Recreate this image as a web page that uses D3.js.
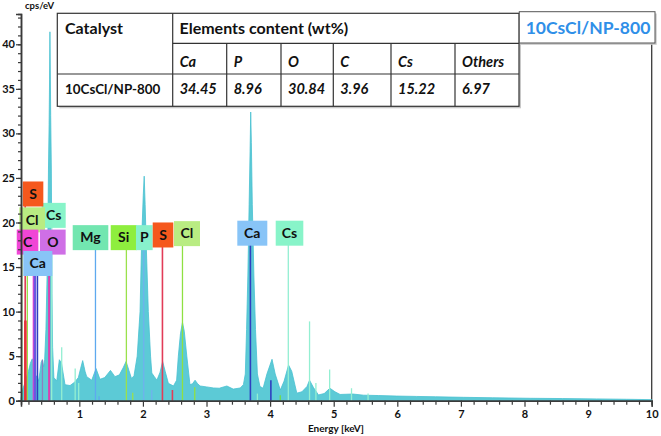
<!DOCTYPE html>
<html><head><meta charset="utf-8">
<script src="https://cdn.jsdelivr.net/npm/d3@7"></script>
<style>
html,body{margin:0;padding:0;background:#fff;}
svg{display:block;font-family:Lato,"Open Sans",sans-serif;}
</style></head>
<body><svg id="c" width="661" height="436"></svg>
<script>
// ---- spectrum (energy keV, counts cps/eV) ----
const energy = [0.083,0.09,0.11,0.14,0.17,0.2,0.23,0.26,0.28,0.3,0.33,0.36,0.38,0.4,0.42,0.44,0.455,0.475,0.49,0.505,0.515,0.525,0.532,0.538,0.545,0.55,0.56,0.57,0.58,0.6,0.645,0.686,0.72,0.775,0.854,0.93,0.985,1.02,1.053,1.09,1.116,1.195,1.263,1.325,1.40,1.49,1.56,1.63,1.69,1.735,1.78,1.82,1.86,1.91,1.955,1.98,2.005,2.02,2.035,2.05,2.085,2.12,2.14,2.18,2.22,2.27,2.31,2.35,2.40,2.48,2.53,2.557,2.59,2.622,2.65,2.69,2.74,2.78,2.82,2.86,2.90,3.0,3.11,3.2,3.32,3.42,3.53,3.58,3.61,3.63,3.65,3.67,3.685,3.695,3.705,3.72,3.745,3.77,3.8,3.84,3.89,3.95,4.03,4.08,4.16,4.22,4.29,4.34,4.42,4.50,4.58,4.62,4.68,4.76,4.85,4.94,5.02,5.1,5.3,5.47,5.7,5.99,6.3,6.6,7.04,7.5,8.09,8.6,9.13,9.6,10];
const counts = [0.3,0.5,1.3,1.9,2.7,3.3,4.2,4.7,3.6,2.5,2.8,2.2,3.2,4.3,4.6,3.8,4.6,8,13,18,26,31,36,41.4,36,32,26,12,6,2.6,2.2,4.6,4.2,1.8,1.7,2.1,2.6,3.6,4.5,3.3,2.7,2.3,3.6,2.4,2.6,3.4,2.7,2.9,3.7,4.4,3.4,2.5,2.8,5,10,18,23,25.2,22,18,10,5,3.1,2.7,2.3,3.2,4.4,3.3,1.95,1.65,2.3,5,7.5,8.8,7.8,5,1.8,1.9,2.3,1.9,1.65,1.55,1.43,1.4,1.65,1.3,1.43,1.8,3,8,14,22,28,32.4,29,22,14,8,3,1.6,1.4,3,4.65,3,1.2,2.2,4.0,3.3,0.85,1.0,1.6,2.3,1.5,0.65,0.8,1.4,1.0,0.7,0.75,0.62,0.58,0.52,0.48,0.44,0.38,0.33,0.27,0.24,0.2,0.16,0.12];

// ---- element marker lines ----
const markerEnergy = [0.094,0.149,0.182,0.277,0.30,0.341,0.42,0.525,0.565,0.723,0.935,0.99,1.254,1.31,1.74,1.84,2.013,2.139,2.307,2.464,2.622,2.815,3.69,3.80,4.012,4.16,4.286,4.62,4.72,4.936,5.28,5.54];
const markerTop    = [17.8,23,20.3,17.8,15.4,15.4,4.6,17.8,20.8,6,3.6,2.0,18.3,0.5,18.3,0.9,18.3,1.2,18.6,1.2,18.7,1.5,18.8,0.8,2.3,0.6,18.8,8.9,2.0,3.5,1.4,0.8];
const markerKind   = ["g","S","Cl","C","CaL2","Ca","N","O","Cs","Cs","Cs","Cs","Mg","Mg","Si","Si","P","P","S","S","Cl","Cl","Ca","Cs","Ca","g","Cs","Cs","Cs","Cs","Cs","Cs"];

// ---- element label boxes ----
const boxLabel  = ["Cs","Cl","S","O","C","Ca","Mg","Si","P","S","Cl","Ca","Cs"];
const boxEnergy = [0.597,0.259,0.272,0.583,0.186,0.347,1.176,1.698,2.022,2.316,2.693,3.72,4.305];
const boxValue  = [20.8,20.3,23.2,17.8,17.8,15.4,18.3,18.3,18.3,18.6,18.75,18.8,18.8];

// ---- axes ----
const xMajor = [1,2,3,4,5,6,7,8,9,10];
const yMajor = [0,5,10,15,20,25,30,35,40];

// ---- composition table ----
const tableCatalyst = "10CsCl/NP-800";
const tableElements = ["Ca","P","O","C","Cs","Others"];
const tableValues   = ["34.45","8.96","30.84","3.96","15.22","6.97"];
const legendLabel = "10CsCl/NP-800";

// ---------- styles ----------
const boxFill = {S:"#f5581d",Cl:"#b9ec82",Cs:"#88f4c9",C:"#f046d6",O:"#cf6fe6",Ca:"#88c4f7",Mg:"#72e6b0",Si:"#8eee3e",P:"#88f1cc"};
const boxW = [24,25.7,20.6,25.7,21.6,29,35.6,26,16.7,20.6,26,30,27.6];
const lineColor = {g:"#6fdc4a",S:"#e23c58",Cl:"#8fe042",C:"#ee3fcf",CaL2:"#6a58e0",Ca:"#2f3fc0",N:"#8c80c0",O:"#dd3fb0",Cs:"#93efd2",Mg:"#5ea9ef",Si:"#9ae14c",P:"#6fb2ee"};
const lineW = {CaL2:2.4,O:2,S:1.6,Ca:1.6};

const svg = d3.select("#c");
const x = d3.scaleLinear().domain([0.083,10]).range([21,651.7]);
const y = d3.scaleLinear().domain([0,43.4]).range([400.7,14]);
const axisCol = "#3a3a3a";

// right frame line
svg.append("line").attr("x1",x(10)).attr("x2",x(10)).attr("y1",y(43.4)).attr("y2",y(0))
  .attr("stroke",axisCol).attr("stroke-width",1.3);

// spectrum
const pts = energy.map((e,i)=>[e,counts[i]]);
svg.append("path").datum(pts)
  .attr("d",d3.area().x(d=>x(d[0])).y0(y(0)).y1(d=>y(d[1])))
  .attr("fill","#5ccad6").attr("stroke","#48c0d0").attr("stroke-width",0.8);

// marker lines
svg.append("g").selectAll("line").data(markerEnergy).join("line")
  .attr("x1",d=>x(d)).attr("x2",d=>x(d))
  .attr("y1",(d,i)=>y(markerTop[i])).attr("y2",y(0))
  .attr("stroke",(d,i)=>lineColor[markerKind[i]])
  .attr("stroke-width",(d,i)=>lineW[markerKind[i]]||1.3);
// thick red S-L base
svg.append("line").attr("x1",x(0.152)).attr("x2",x(0.152)).attr("y1",y(9)).attr("y2",y(0))
  .attr("stroke","#e8303a").attr("stroke-width",2.6);

// label boxes
const bg = svg.append("g");
boxLabel.forEach((lab,i)=>{
  const cx = x(boxEnergy[i]), cy = y(boxValue[i]), w = boxW[i], h = 25;
  bg.append("rect").attr("x",cx-w/2).attr("y",cy-h/2).attr("width",w).attr("height",h)
    .attr("fill",boxFill[lab]);
  bg.append("text").attr("x",cx).attr("y",cy+4.8).attr("text-anchor","middle")
    .attr("font-size",14).attr("font-weight",700).attr("fill","#111").text(lab);
});

// axes
const gx = svg.append("g").attr("transform",`translate(0,${y(0)})`);
gx.call(d3.axisBottom(x).tickValues(d3.range(0.2,10.01,0.2).filter(v=>Math.abs(v-Math.round(v))>0.01)).tickSize(4).tickFormat(""));
gx.call(g=>g.selectAll(".tick line").attr("stroke",axisCol));
const gx2 = svg.append("g").attr("transform",`translate(0,${y(0)})`)
  .call(d3.axisBottom(x).tickValues(xMajor).tickSize(6).tickPadding(4).tickFormat(d3.format("d")));
[gx,gx2].forEach(g=>{g.select(".domain").attr("stroke",axisCol).attr("stroke-width",1.5);
  g.selectAll(".tick line").attr("stroke",axisCol).attr("stroke-width",1.2);
  g.selectAll("text").attr("font-size",11).attr("font-weight",700).attr("fill","#111").attr("font-family","Lato");});

const gy = svg.append("g").attr("transform",`translate(${x(0.083)},0)`)
  .call(d3.axisLeft(y).tickValues(d3.range(0,44,1)).tickSize(3).tickFormat(""));
const gy2 = svg.append("g").attr("transform",`translate(${x(0.083)},0)`)
  .call(d3.axisLeft(y).tickValues(yMajor).tickSize(5).tickPadding(1).tickFormat(d3.format("d")));
[gy,gy2].forEach(g=>{g.select(".domain").attr("stroke",axisCol).attr("stroke-width",1.5);
  g.selectAll(".tick line").attr("stroke",axisCol).attr("stroke-width",1.2);
  g.selectAll("text").attr("font-size",11).attr("font-weight",700).attr("fill","#111").attr("font-family","Lato");});

svg.append("text").attr("x",25).attr("y",9).attr("font-size",9.5).attr("font-weight",700).attr("fill","#111").text("cps/eV");
svg.append("text").attr("x",336).attr("y",432).attr("text-anchor","middle").attr("font-size",10).attr("font-weight",700).attr("fill","#111").text("Energy [keV]");

// table
const colEdges = [57.3,172.7,226.7,281,333.3,391,455,519];
const rowEdges = [13.3,43.3,74,106.3];
const tg = svg.append("g");
tg.append("rect").attr("x",colEdges[0]+2).attr("y",rowEdges[0]+2).attr("width",colEdges[7]-colEdges[0]).attr("height",rowEdges[3]-rowEdges[0]).attr("fill","#c8c8c8");
tg.append("rect").attr("x",colEdges[0]).attr("y",rowEdges[0]).attr("width",colEdges[7]-colEdges[0]).attr("height",rowEdges[3]-rowEdges[0]).attr("fill","#fff").attr("stroke","#333").attr("stroke-width",1.2);
tg.append("line").attr("x1",colEdges[0]).attr("x2",colEdges[7]).attr("y1",rowEdges[2]).attr("y2",rowEdges[2]).attr("stroke","#333").attr("stroke-width",1.2);
tg.append("line").attr("x1",colEdges[1]).attr("x2",colEdges[7]).attr("y1",rowEdges[1]).attr("y2",rowEdges[1]).attr("stroke","#333").attr("stroke-width",1.2);
tg.append("line").attr("x1",colEdges[1]).attr("x2",colEdges[1]).attr("y1",rowEdges[0]).attr("y2",rowEdges[3]).attr("stroke","#333").attr("stroke-width",1.2);
colEdges.slice(2,7).forEach(c=>tg.append("line").attr("x1",c).attr("x2",c).attr("y1",rowEdges[1]).attr("y2",rowEdges[3]).attr("stroke","#333").attr("stroke-width",1.2));
tg.append("text").attr("x",65).attr("y",33.5).attr("font-size",16).attr("font-weight",700).attr("fill","#111").text("Catalyst");
tg.append("text").attr("x",179.5).attr("y",33.5).attr("font-size",16).attr("font-weight",700).attr("fill","#111").text("Elements content (wt%)");
tg.append("text").attr("x",65).attr("y",93.5).attr("font-size",13.4).attr("font-weight",700).attr("fill","#111").text(tableCatalyst);
tableElements.forEach((e,i)=>{
  tg.append("text").attr("x",colEdges[i+1]+7).attr("y",66.5).attr("font-size",14.5).attr("font-weight",700).attr("font-style","italic").attr("fill","#111").text(e);
  tg.append("text").attr("x",colEdges[i+1]+7).attr("y",93.5).attr("font-size",14.5).attr("font-weight",700).attr("font-style","italic").attr("fill","#111").text(tableValues[i]);
});

// legend box
svg.append("rect").attr("x",521).attr("y",13.5).attr("width",135.7).attr("height",31.3).attr("fill","#c8c8c8");
svg.append("rect").attr("x",519.3).attr("y",11.7).attr("width",135.7).attr("height",31.3).attr("fill","#fff").attr("stroke","#555").attr("stroke-width",1);
svg.append("text").attr("x",588).attr("y",34).attr("text-anchor","middle").attr("font-size",17.5).attr("font-weight",700).attr("fill","#2f8fe8").text(legendLabel);
</script></body></html>
